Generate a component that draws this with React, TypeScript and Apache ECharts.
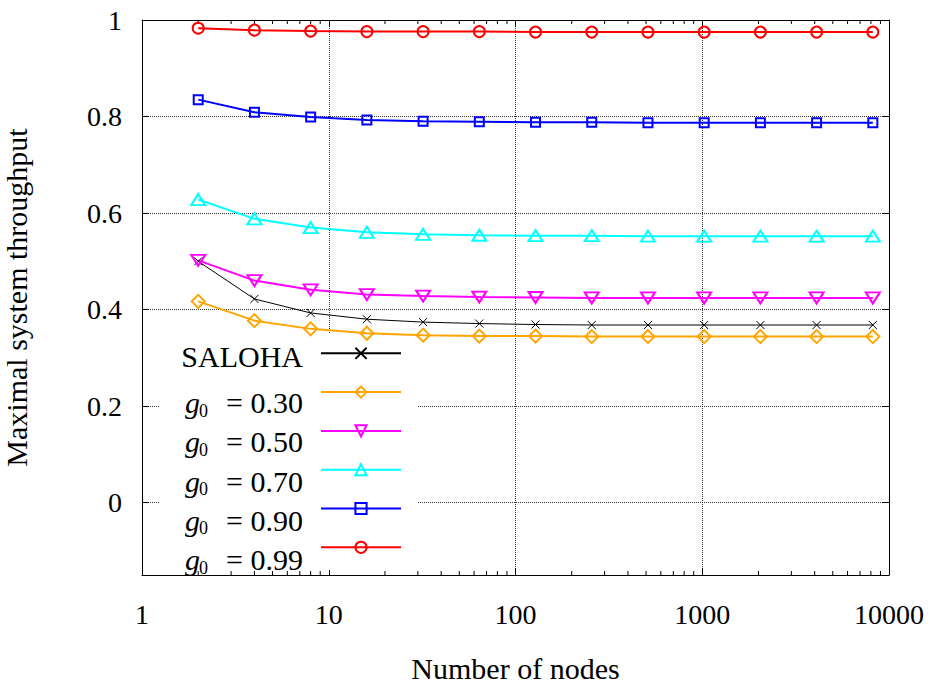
import React, { useEffect, useRef } from 'react';
import * as echarts from 'echarts';

// ---- data ----
const nodes = [2, 4, 8, 16, 32, 64, 128, 256, 512, 1024, 2048, 4096, 8192];
const saloha = [0.5, 0.422, 0.393, 0.38, 0.374, 0.371, 0.369, 0.368, 0.368, 0.368, 0.368, 0.368, 0.368];
const g030 = [0.417, 0.377, 0.36, 0.351, 0.347, 0.345, 0.345, 0.344, 0.344, 0.344, 0.344, 0.344, 0.344];
const g050 = [0.502, 0.46, 0.441, 0.431, 0.428, 0.426, 0.425, 0.424, 0.424, 0.424, 0.424, 0.424, 0.424];
const g070 = [0.628, 0.588, 0.57, 0.56, 0.556, 0.554, 0.553, 0.553, 0.552, 0.552, 0.552, 0.552, 0.552];
const g090 = [0.835, 0.809, 0.799, 0.793, 0.79, 0.789, 0.788, 0.788, 0.787, 0.787, 0.787, 0.787, 0.787];
const g099 = [0.983, 0.979, 0.977, 0.976, 0.976, 0.976, 0.975, 0.975, 0.975, 0.975, 0.975, 0.975, 0.975];
const seriesNames = ['SALOHA', 'g0 = 0.30', 'g0 = 0.50', 'g0 = 0.70', 'g0 = 0.90', 'g0 = 0.99'];
const gValues = ['0.30', '0.50', '0.70', '0.90', '0.99'];
const minorTickValues = [
  2, 3, 4, 5, 6, 7, 8, 9,
  20, 30, 40, 50, 60, 70, 80, 90,
  200, 300, 400, 500, 600, 700, 800, 900,
  2000, 3000, 4000, 5000, 6000, 7000, 8000, 9000,
];
const X_MIN = 1;
const X_MAX = 10000;
const Y_MIN = -0.15;
const Y_MAX = 1;

const FONT = 'Liberation Serif';

// legend layout
const LEG_ICON_X = 320;
const LEG_FIRST_Y = 353.3;
const LEG_STEP = 39.2;
const LEG_TEXT_RIGHT = 303;

export default function App() {
  const ref = useRef<HTMLDivElement>(null);
  useEffect(() => {
    if (!ref.current) return;
    const chart = echarts.init(ref.current, null, { renderer: 'svg' });

    const mk = (
      name: string,
      vals: number[],
      color: string,
      symbol: string,
      size: number | number[],
      lw: number
    ) => ({
      name,
      type: 'line',
      data: nodes.map((n, i) => [n, vals[i]]),
      symbol,
      symbolSize: size,
      showSymbol: true,
      lineStyle: { color, width: lw },
      itemStyle: { color: 'rgba(0,0,0,0)', borderColor: color, borderWidth: lw },
      z: 3,
    });

    const axisLbl = { fontFamily: FONT, fontSize: 28, color: '#000' };
    const gridLine = { show: true, lineStyle: { color: '#333', type: [1, 1], width: 1 } };
    const border = { show: true, onZero: false, lineStyle: { color: '#000', width: 1 } };
    const ticks = { show: true, inside: true, length: 7, lineStyle: { color: '#000' } };

    // legend texts (drawn as graphic texts, aligned to the legend rows)
    const legendTexts: any[] = [
      {
        type: 'text',
        z: 5,
        silent: true,
        x: LEG_TEXT_RIGHT,
        y: LEG_FIRST_Y + 3.3,
        style: { text: 'SALOHA', fontFamily: FONT, fontSize: 30, fill: '#000', align: 'right', verticalAlign: 'middle' },
      },
    ];
    gValues.forEach((g, k) => {
      const cy = LEG_FIRST_Y + LEG_STEP * (k + 1);
      legendTexts.push(
        {
          type: 'text',
          z: 5,
          silent: true,
          x: 185,
          y: cy + 10.2,
          style: { text: 'g', fontFamily: FONT, fontStyle: 'italic', fontSize: 30, fill: '#000', align: 'left', verticalAlign: 'middle' },
        },
        {
          type: 'text',
          z: 5,
          silent: true,
          x: 199,
          y: cy + 18.2,
          style: { text: '0', fontFamily: FONT, fontSize: 18, fill: '#000', align: 'left', verticalAlign: 'middle' },
        },
        {
          type: 'text',
          z: 5,
          silent: true,
          x: LEG_TEXT_RIGHT,
          y: cy + 10.2,
          style: { text: '= ' + g, fontFamily: FONT, fontSize: 30, fill: '#000', align: 'right', verticalAlign: 'middle' },
        }
      );
    });

    const option: any = {
      animation: false,
      backgroundColor: '#fff',
      grid: { left: 142, top: 20, right: 43, bottom: 111, containLabel: false, outerBoundsMode: 'none' },
      graphic: [
        {
          type: 'rect',
          z: 1,
          silent: true,
          shape: { x: 160, y: 334, width: 258, height: 236 },
          style: { fill: '#fff' },
        },
        ...legendTexts,
      ],
      xAxis: [
        {
          type: 'log',
          logBase: 10,
          min: X_MIN,
          max: X_MAX,
          position: 'bottom',
          name: 'Number of nodes',
          nameLocation: 'middle',
          nameGap: 78,
          nameTextStyle: { fontFamily: FONT, fontSize: 30, color: '#000' },
          axisLine: border,
          axisTick: ticks,
          axisLabel: { ...axisLbl, margin: 25, formatter: (v: number) => String(Math.round(v)) },
          splitLine: gridLine,
        },
        {
          type: 'log',
          logBase: 10,
          min: X_MIN,
          max: X_MAX,
          position: 'top',
          axisLine: border,
          axisTick: ticks,
          axisLabel: { show: false },
          splitLine: { show: false },
        },
      ],
      yAxis: [
        {
          type: 'value',
          min: Y_MIN,
          max: Y_MAX,
          position: 'left',
          name: 'Maximal system throughput',
          nameLocation: 'middle',
          nameGap: 111,
          nameTextStyle: { fontFamily: FONT, fontSize: 30, color: '#000' },
          axisLine: border,
          axisTick: ticks,
          axisLabel: { ...axisLbl, margin: 20, showMinLabel: false },
          splitLine: gridLine,
        },
        {
          type: 'value',
          min: Y_MIN,
          max: Y_MAX,
          position: 'right',
          axisLine: border,
          axisTick: ticks,
          axisLabel: { show: false },
          splitLine: { show: false },
        },
      ],
      legend: {
        show: true,
        z: 4,
        data: seriesNames,
        orient: 'vertical',
        align: 'left',
        left: LEG_ICON_X,
        top: LEG_FIRST_Y - 7,
        padding: 0,
        itemWidth: 80,
        itemHeight: 14,
        itemGap: LEG_STEP - 14,
        selectedMode: false,
        formatter: () => '',
        textStyle: { fontSize: 1, color: 'rgba(0,0,0,0)' },
      },
      series: [
        mk(seriesNames[0], saloha, '#000000', 'path://M0,0L10,10M10,0L0,10', 8, 1),
        mk(seriesNames[1], g030, '#ffa500', 'diamond', 13, 2),
        mk(seriesNames[2], g050, '#ff00ff', 'path://M0,0L12,0L6,10Z', [14, 11], 2),
        mk(seriesNames[3], g070, '#00ffff', 'triangle', [14, 11], 2),
        mk(seriesNames[4], g090, '#0000ff', 'rect', 9, 2),
        mk(seriesNames[5], g099, '#ff0000', 'circle', 11, 2),
        {
          type: 'custom',
          silent: true,
          z: 2,
          clip: false,
          data: minorTickValues.map((v) => [v, Y_MIN]),
          encode: { x: 0, y: 1 },
          renderItem: (_params: any, api: any) => {
            const v = api.value(0);
            const b = api.coord([v, Y_MIN]);
            const t = api.coord([v, Y_MAX]);
            return {
              type: 'group',
              children: [
                { type: 'line', shape: { x1: b[0], y1: b[1], x2: b[0], y2: b[1] - 4 }, style: { stroke: '#000', lineWidth: 1 } },
                { type: 'line', shape: { x1: t[0], y1: t[1], x2: t[0], y2: t[1] + 4 }, style: { stroke: '#000', lineWidth: 1 } },
              ],
            };
          },
        },
      ],
    };
    chart.setOption(option);
    return () => chart.dispose();
  }, []);
  return (
    <div
      ref={ref}
      style={{ position: 'fixed', left: 0, top: 0, width: 932, height: 686, background: '#fff' }}
    />
  );
}
